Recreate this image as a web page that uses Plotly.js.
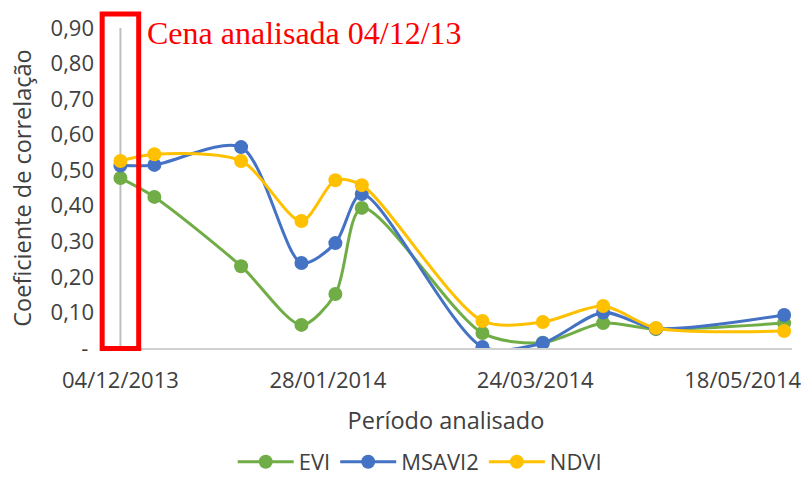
<!DOCTYPE html>
<html>
<head>
<meta charset="utf-8">
<script src="https://cdn.plot.ly/plotly-3.0.1.min.js"></script>
<style>html,body{margin:0;padding:0;background:#fff}#chart{width:801px;height:497px}</style>
</head>
<body>
<div id="chart"></div>
<script>
// Data
const dates = ['2013-12-04','2013-12-13','2014-01-05','2014-01-21','2014-01-30','2014-02-06','2014-03-10','2014-03-26','2014-04-11','2014-04-25','2014-05-29'];
const evi    = [0.478, 0.425, 0.230, 0.065, 0.152, 0.394, 0.042, 0.015, 0.070, 0.053, 0.070];
const msavi2 = [0.513, 0.515, 0.565, 0.239, 0.295, 0.433, 0.003, 0.014, 0.100, 0.055, 0.093];
const ndvi   = [0.526, 0.545, 0.526, 0.357, 0.472, 0.458, 0.076, 0.073, 0.118, 0.056, 0.048];
const seriesNames = ['EVI', 'MSAVI2', 'NDVI'];
const xTickVals = ['2013-12-04','2014-01-28','2014-03-24','2014-05-18'];
const xTickText = ['04/12/2013','28/01/2014','24/03/2014','18/05/2014'];
const yTickVals = [0, 0.1, 0.2, 0.3, 0.4, 0.5, 0.6, 0.7, 0.8, 0.9];
const yTickText = ['-\u00a0', '0,10', '0,20', '0,30', '0,40', '0,50', '0,60', '0,70', '0,80', '0,90'];
const sceneDate = '2013-12-04';
const sceneLabel = 'Cena analisada 04/12/13';

const colors = ['#70AD47', '#4472C4', '#FFC000'];
const values = [evi, msavi2, ndvi];
const xRange = ['2013-11-28 14:00', '2014-05-31 02:00'];

const traces = values.map((v, i) => ({
  x: dates, y: v, name: seriesNames[i], type: 'scatter', mode: 'lines+markers',
  line: {color: colors[i], width: 3, shape: 'spline', smoothing: 0.8},
  marker: {color: colors[i], size: 14}
}));

// paper coordinate of scene date for highlight box
const t0 = Date.parse(xRange[0].replace(' ', 'T') + ':00Z');
const t1 = Date.parse(xRange[1].replace(' ', 'T') + ':00Z');
const ts = Date.parse(sceneDate + 'T00:00:00Z');
const sp = (ts - t0) / (t1 - t0);
const halfW = 0.0264;

const fam = '"Open Sans", "DejaVu Sans", sans-serif';
const tickFont = {family: fam, size: 22, color: '#404040'};
const titleFont = {family: fam, size: 23.5, color: '#404040'};

const layout = {
  width: 801, height: 497,
  margin: {l: 100, r: 9, t: 28, b: 149},
  paper_bgcolor: '#fff', plot_bgcolor: '#fff',
  font: tickFont,
  showlegend: true,
  legend: {orientation: 'h', x: 0.462, xanchor: 'center', y: -0.356, yanchor: 'middle',
           font: tickFont, itemwidth: 56, traceorder: 'normal'},
  xaxis: {type: 'date', range: xRange, tickvals: xTickVals, ticktext: xTickText,
          showgrid: false, zeroline: false, showline: true, linecolor: '#D0D0D0', linewidth: 2,
          ticks: '', tickfont: tickFont, automargin: false, ticklabelstandoff: 12,
          ticklabeloverflow: 'allow',
          title: {text: 'Período analisado', font: titleFont, standoff: 19}},
  yaxis: {range: [0, 0.9], tickvals: yTickVals, ticktext: yTickText, showgrid: false,
          zeroline: false, showline: false, ticks: '', tickfont: tickFont, automargin: false,
          ticklabelstandoff: 5,
          title: {text: 'Coeficiente de correlação', font: titleFont, standoff: 12}},
  shapes: [
    {type: 'line', xref: 'x', yref: 'y', x0: sceneDate, x1: sceneDate, y0: 0, y1: 0.9,
     line: {color: '#BFBFBF', width: 2}, layer: 'below'},
    {type: 'rect', xref: 'paper', yref: 'paper', x0: sp - halfW, x1: sp + halfW, y0: -0.0016, y1: 1.044,
     line: {color: '#FF0000', width: 5}, fillcolor: 'rgba(0,0,0,0)', layer: 'above'}
  ],
  annotations: [
    {xref: 'paper', yref: 'paper', x: sp + halfW + 0.009, y: 0.984, xanchor: 'left', yanchor: 'middle',
     showarrow: false, text: sceneLabel,
     font: {family: '"Liberation Serif", "Times New Roman", serif', size: 32, color: '#FF0000'}}
  ]
};

Plotly.newPlot('chart', traces, layout, {displayModeBar: false, staticPlot: true});
</script>
</body>
</html>
